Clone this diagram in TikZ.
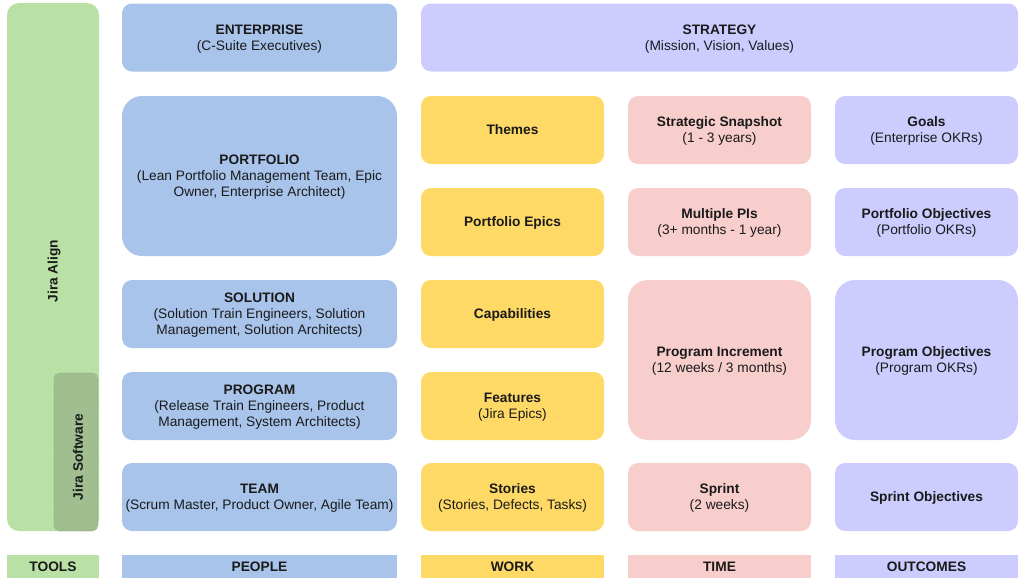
\documentclass[tikz,border=0pt]{standalone}
\usepackage{fontspec}
\setmainfont{Liberation Sans}
\definecolor{cblue}{HTML}{A9C4EB}
\definecolor{cgreen}{HTML}{B9E0A5}
\definecolor{cdarkgreen}{HTML}{A0BE90}
\definecolor{cyellow}{HTML}{FFD966}
\definecolor{cpink}{HTML}{F8CECC}
\definecolor{cpurple}{HTML}{CCCCFF}
\definecolor{ctext}{HTML}{1A1A1A}
\begin{document}
\begin{tikzpicture}[x=0.75pt, y=-0.75pt,
    cell/.style={rectangle, rounded corners=7.5pt, inner sep=0pt, align=center, text=ctext,
      font=\fontsize{10.3}{12}\selectfont, minimum width=137.25pt, minimum height=51pt, text depth=0pt},
    wide/.style={minimum width=206.25pt},
    tall/.style={minimum height=120pt, rounded corners=15pt},
    footer/.style={cell, rounded corners=0pt, minimum height=17.25pt, font=\fontsize{10.3}{12}\selectfont\bfseries}]
    \useasboundingbox (0,0) rectangle (1024,582);
    \node[cell, fill=cgreen, minimum width=69pt, minimum height=396pt, rounded corners=9pt] (JiraAlign) at (53,267) {};
    \node[cell, fill=cdarkgreen, draw=cdarkgreen!80!black, densely dotted, minimum width=33pt, minimum height=118.5pt, rounded corners=4pt] (JiraSoftware) at (76,452) {};
    \node[font=\fontsize{10.3}{12}\selectfont\bfseries, text=ctext, rotate=90] (AlignLabel) at (54,271) {Jira Align};
    \node[font=\fontsize{10.3}{12}\selectfont\bfseries, text=ctext, rotate=90] (SoftwareLabel) at (78,457) {Jira Software};
    \node[cell, wide, fill=cblue] (Enterprise) at (259.5,37.5) {\textbf{ENTERPRISE}\\(C-Suite Executives)};
    \node[cell, fill=cpurple, minimum width=447.75pt] (Strategy) at (719.5,37.5) {\textbf{STRATEGY}\\(Mission, Vision, Values)};
    \node[cell, wide, tall, fill=cblue] (Portfolio) at (259.5,176) {\textbf{PORTFOLIO}\\(Lean Portfolio Management Team, Epic\\Owner, Enterprise Architect)};
    \node[cell, wide, fill=cblue] (Solution) at (259.5,314) {\textbf{SOLUTION}\\(Solution Train Engineers, Solution\\Management, Solution Architects)};
    \node[cell, wide, fill=cblue] (Program) at (259.5,406) {\textbf{PROGRAM}\\(Release Train Engineers, Product\\Management, System Architects)};
    \node[cell, wide, fill=cblue] (Team) at (259.5,497) {\textbf{TEAM}\\(Scrum Master, Product Owner, Agile Team)};
    \node[cell, fill=cyellow] (Themes) at (512.5,130) {\textbf{Themes}};
    \node[cell, fill=cyellow] (PortfolioEpics) at (512.5,222) {\textbf{Portfolio Epics}};
    \node[cell, fill=cyellow] (Capabilities) at (512.5,314) {\textbf{Capabilities}};
    \node[cell, fill=cyellow] (Features) at (512.5,406) {\textbf{Features}\\(Jira Epics)};
    \node[cell, fill=cyellow] (Stories) at (512.5,497) {\textbf{Stories}\\(Stories, Defects, Tasks)};
    \node[cell, fill=cpink] (Snapshot) at (719.5,130) {\textbf{Strategic Snapshot}\\(1 - 3 years)};
    \node[cell, fill=cpink] (MultiplePIs) at (719.5,222) {\textbf{Multiple PIs}\\(3+ months - 1 year)};
    \node[cell, tall, fill=cpink] (Increment) at (719.5,360) {\textbf{Program Increment}\\(12 weeks / 3 months)};
    \node[cell, fill=cpink] (Sprint) at (719.5,497) {\textbf{Sprint}\\(2 weeks)};
    \node[cell, fill=cpurple] (Goals) at (926.5,130) {\textbf{Goals}\\(Enterprise OKRs)};
    \node[cell, fill=cpurple] (PortfolioObj) at (926.5,222) {\textbf{Portfolio Objectives}\\(Portfolio OKRs)};
    \node[cell, tall, fill=cpurple] (ProgramObj) at (926.5,360) {\textbf{Program Objectives}\\(Program OKRs)};
    \node[cell, fill=cpurple] (SprintObj) at (926.5,497) {\textbf{Sprint Objectives}};
    \node[footer, fill=cgreen, minimum width=69pt] (Tools) at (53,566.5) {TOOLS};
    \node[footer, fill=cblue, minimum width=206.25pt] (People) at (259.5,566.5) {PEOPLE};
    \node[footer, fill=cyellow] (Work) at (512.5,566.5) {WORK};
    \node[footer, fill=cpink] (Time) at (719.5,566.5) {TIME};
    \node[footer, fill=cpurple] (Outcomes) at (926.5,566.5) {OUTCOMES};
  \end{tikzpicture}
\end{document}
